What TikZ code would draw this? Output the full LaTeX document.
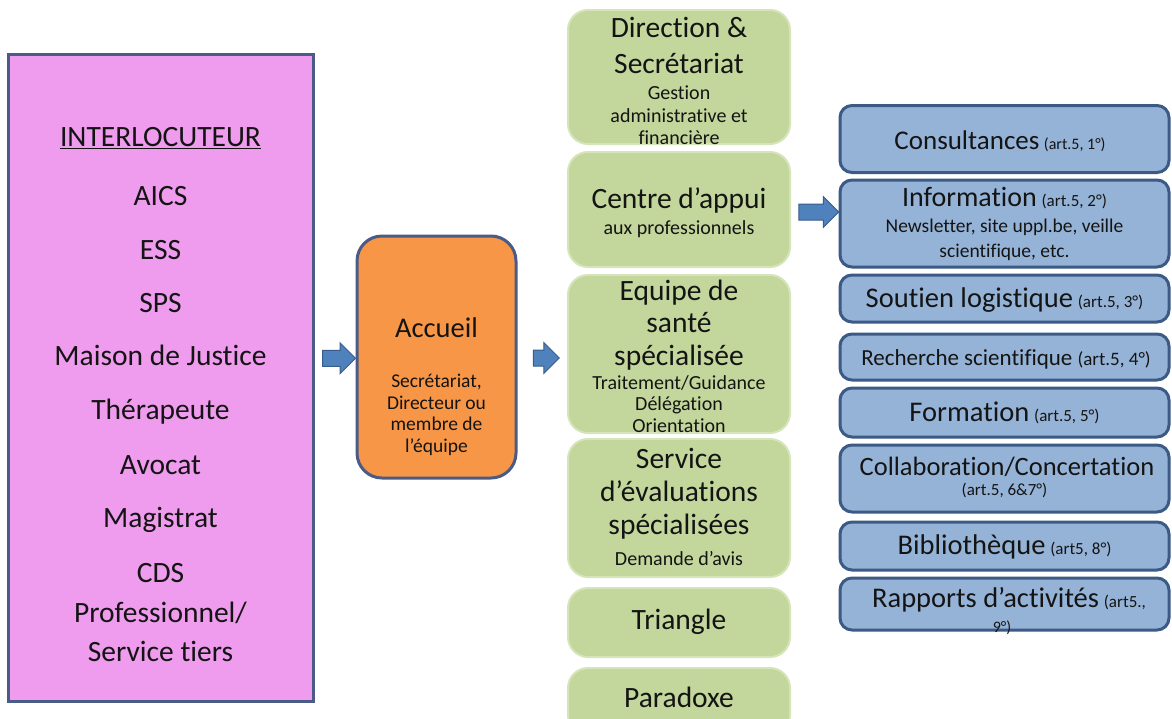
\documentclass[tikz,border=0pt]{standalone}
\usepackage{fontspec}
\setmainfont{Carlito}[Ligatures=NoCommon]
\usetikzlibrary{shapes.arrows,calc}
\definecolor{pinkfill}{HTML}{F09CEE}
\definecolor{navyline}{HTML}{4A5B85}
\definecolor{orangefill}{HTML}{F79646}
\definecolor{greenfill}{HTML}{C3D69B}
\definecolor{greenline}{HTML}{D6E4BA}
\definecolor{bluefill}{HTML}{95B3D7}
\definecolor{blueline}{HTML}{3B5A85}
\definecolor{arrowfill}{HTML}{4F81BD}
\definecolor{arrowline}{HTML}{385D8A}
\definecolor{txtcol}{HTML}{141414}
\newcommand\fsz[1]{\fontsize{#1}{#1}\selectfont}
\tikzset{
  pinkbox/.style={draw=navyline, line width=3pt, fill=pinkfill, inner sep=0pt},
  orangebox/.style={draw=navyline, line width=3pt, fill=orangefill, rounded corners=25pt, inner sep=0pt},
  greenbox/.style={draw=greenline, line width=2pt, fill=greenfill, rounded corners=20pt, inner sep=0pt, minimum width=222pt},
  bluebox/.style={draw=blueline, line width=3pt, fill=bluefill, rounded corners=12pt, inner sep=0pt, minimum width=329pt},
  blockarrow/.style={single arrow, draw=arrowline, line width=1pt, fill=arrowfill,
    inner xsep=0pt, inner ysep=7.5pt, minimum width=30pt,
    single arrow head extend=7.5pt, single arrow head indent=0pt},
  txt/.style={anchor=base, inner sep=0pt, text=txtcol, align=center},
}
\begin{document}
\begin{tikzpicture}[x=1pt,y=-1pt]
\useasboundingbox (0,0) rectangle (1172,718);
\fill[white] (0,0) rectangle (1172,718);

% ---------- left box ----------
\node[pinkbox, minimum width=305pt, minimum height=647pt] (inter) at (160.5,377.5) {};
\node[txt, font=\fsz{29.5}] (t0) at (160.5,146.5) {\underline{INTERLOCUTEUR}};
\node[txt, font=\fsz{29.5}] (t1) at (160.5,205.5) {AICS};
\node[txt, font=\fsz{29.5}] (t2) at (160.5,259.5) {ESS};
\node[txt, font=\fsz{29.5}] (t3) at (160.5,312.5) {SPS};
\node[txt, font=\fsz{29.5}] (t4) at (160.5,365.5) {Maison de Justice};
\node[txt, font=\fsz{29.5}] (t5) at (160.5,419.5) {Thérapeute};
\node[txt, font=\fsz{29.5}] (t6) at (160.5,474.5) {Avocat};
\node[txt, font=\fsz{29.5}] (t7) at (160.5,527.5) {Magistrat};
\node[txt, font=\fsz{29.5}] (t8) at (160.5,582.5) {CDS};
\node[txt, font=\fsz{29.5}] (t9) at (160.5,622.5) {Professionnel/};
\node[txt, font=\fsz{29.5}] (t10) at (160.5,661.5) {Service tiers};

% ---------- accueil ----------
\node[orangebox, minimum width=159pt, minimum height=242pt] (acc) at (436.5,357) {};
\node[txt, font=\fsz{28.5}] (a0) at (436.5,337) {Accueil};
\node[txt, font=\fsz{19.5}] (a1) at (436.5,387.5) {Secrétariat,};
\node[txt, font=\fsz{19.5}] (a2) at (436.5,409) {Directeur ou};
\node[txt, font=\fsz{19.5}] (a3) at (436.5,430.5) {membre de};
\node[txt, font=\fsz{19.5}] (a4) at (436.5,452) {l’équipe};

% ---------- green column ----------
\node[greenbox, minimum height=134pt] (g1) at (679,77) {};
\node[greenbox, minimum height=115pt] (g2) at (679,209.5) {};
\node[greenbox, minimum height=158pt] (g3) at (679,354) {};
\node[greenbox, minimum height=138pt] (g4) at (679,508) {};
\node[greenbox, minimum height=69pt] (g5) at (679,622.5) {};
\node[greenbox, minimum height=67pt] (g6) at (679,701.5) {};

\node[txt, font=\fsz{29.5}] at (679,37.5) {Direction \&};
\node[txt, font=\fsz{29.5}] at (679,73.5) {Secrétariat};
\node[txt, font=\fsz{20}] at (679,99.5) {Gestion};
\node[txt, font=\fsz{20}] at (679,122) {administrative et};
\node[txt, font=\fsz{20}] at (679,144.5) {financière};

\node[txt, font=\fsz{29.5}] at (679,208.5) {Centre d’appui};
\node[txt, font=\fsz{20}] at (679,234) {aux professionnels};

\node[txt, font=\fsz{29.5}] at (679,300.5) {Equipe de};
\node[txt, font=\fsz{29.5}] at (679,332.5) {santé};
\node[txt, font=\fsz{29.5}] at (679,365) {spécialisée};
\node[txt, font=\fsz{20}] at (679,389) {Traitement/Guidance};
\node[txt, font=\fsz{20}] at (679,410.5) {Délégation};
\node[txt, font=\fsz{20}] at (679,432.5) {Orientation};

\node[txt, font=\fsz{29.5}] at (679,468) {Service};
\node[txt, font=\fsz{29.5}] at (679,501.5) {d’évaluations};
\node[txt, font=\fsz{29.5}] at (679,534.5) {spécialisées};
\node[txt, font=\fsz{20}] at (679,565) {Demande d’avis};

\node[txt, font=\fsz{29.5}] at (679,629.5) {Triangle};
\node[txt, font=\fsz{29.5}] at (679,707) {Paradoxe};

% ---------- blue column ----------
\node[bluebox, minimum height=67pt] (b1) at (1004.5,139) {};
\node[bluebox, minimum height=87pt] (b2) at (1004.5,223.5) {};
\node[bluebox, minimum height=47pt] (b3) at (1004.5,298.5) {};
\node[bluebox, minimum height=46pt] (b4) at (1004.5,357) {};
\node[bluebox, minimum height=49pt] (b5) at (1004.5,412.5) {};
\node[bluebox, minimum height=67pt] (b6) at (1004.5,478.5) {};
\node[bluebox, minimum height=48pt] (b7) at (1004.5,546) {};
\node[bluebox, minimum height=52pt] (b8) at (1004.5,604) {};

\node[txt, font=\fsz{27}] at (1000,149) {Consultances\,{\fsz{16}(art.5, 1°)}};
\node[txt, font=\fsz{28}] at (1004.5,206) {Information\,{\fsz{17}(art.5, 2°)}};
\node[txt, font=\fsz{19.5}] at (1004.5,232) {Newsletter, site uppl.be, veille};
\node[txt, font=\fsz{19.5}] at (1004.5,257) {scientifique, etc.};
\node[txt, font=\fsz{28.5}] at (1004.5,307.5) {Soutien logistique\,{\fsz{17}(art.5, 3°)}};
\node[txt, font=\fsz{23}] at (1006,365.5) {Recherche scientifique {\fsz{19}(art.5, 4°)}};
\node[txt, font=\fsz{28.5}] at (1004.5,421.5) {Formation\,{\fsz{17}(art.5, 5°)}};
\node[txt, font=\fsz{26.5}] at (1007,475.5) {Collaboration/Concertation};
\node[txt, font=\fsz{17}] at (1004.5,495) {(art.5, 6\&7°)};
\node[txt, font=\fsz{28.5}] at (1004.5,554.5) {Bibliothèque\,{\fsz{17}(art5, 8°)}};
\node[txt, font=\fsz{28.5}] at (1009,607) {Rapports d’activités\,{\fsz{17}(art5.,}};
\node[txt, font=\fsz{16}] at (1002,632) {9°)};

% ---------- arrows ----------
\node[blockarrow, minimum height=33pt] (ar1) at ($(inter.east)!.5!(acc.west) + (0,-9)$) {};
\node[blockarrow, minimum height=26pt] (ar2) at ($(acc.east)!.5!(g3.west) + (0,2.5)$) {};
\node[blockarrow, minimum height=40pt] (ar3) at ($(g2.east)!.5!(b2.west) + (0,-4.5)$) {};
\end{tikzpicture}
\end{document}
